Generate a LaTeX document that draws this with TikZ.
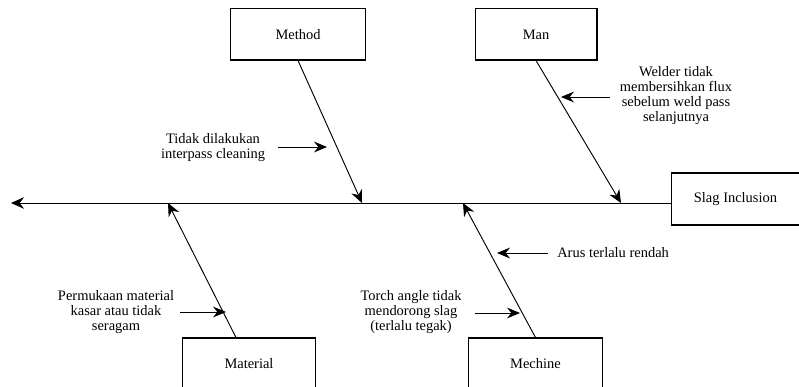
\documentclass[tikz,border=0pt]{standalone}
\usepackage{fontspec}
\setmainfont{Liberation Serif}
\usepackage{tikz}
\usetikzlibrary{calc, positioning, arrows.meta}

\tikzset{
    catbox/.style={draw, line width=0.7pt, minimum height=1.24cm, inner sep=0pt,
        font=\fontsize{10}{10.4}\selectfont},
    bone/.style={line width=0.65pt, -{Stealth[length=9pt, width=8pt, inset=3pt]}},
    cause/.style={line width=0.65pt, -{Stealth[length=9pt, width=7.5pt, inset=3pt]}},
    causetext/.style={align=center, inner sep=0pt, font=\fontsize{10}{10.4}\selectfont},
}

\begin{document}
\begin{tikzpicture}[x=0.0243cm, y=-0.0243cm]
            \useasboundingbox (0,0) rectangle (799,387);

            % === Category boxes ===
            \node[catbox, minimum width=3.305cm] (method) at (298,34.5) {Method};
            \node[catbox, minimum width=2.965cm] (man) at (536,34.5) {Man};
            \node[catbox, minimum width=3.256cm] (material) at (249,363.5) {Material};
            \node[catbox, minimum width=3.28cm] (mechine) at (535.5,363.5) {Mechine};

            % === Effect (head) ===
            \node[catbox, minimum width=3.135cm, minimum height=1.264cm] (slag) at (735.5,199) {Slag Inclusion};

            % === Spine ===
            \coordinate (head) at (671,203);
            \coordinate (tail) at (11,203);
            \draw[bone] (head) -- (tail);

            % === Bones ===
            \coordinate (jmethod) at (362,203);
            \coordinate (jman) at (621,203);
            \coordinate (jmaterial) at (168,203);
            \coordinate (jmechine) at (463,203);
            \draw[bone] (method.south) -- (jmethod);
            \draw[bone] (man.south) -- (jman);
            \draw[bone] ($(material.north)+(-13,0)$) -- (jmaterial);
            \draw[bone] (mechine.north) -- (jmechine);

            % === Causes ===
            \node[causetext] (cmethod) at (213,148) {Tidak dilakukan\\interpass cleaning};
            \coordinate (cmethodA) at (278,147);
            \coordinate (cmethodB) at (327,147);
            \draw[cause] (cmethodA) -- (cmethodB);

            \node[causetext] (cman) at (676,95.5) {Welder tidak\\membersihkan flux\\sebelum weld pass\\selanjutnya};
            \coordinate (cmanA) at (610,97);
            \coordinate (cmanB) at (561,97);
            \draw[cause] (cmanA) -- (cmanB);

            \node[causetext] (cmaterial) at (116,312.5) {Permukaan material\\kasar atau tidak\\seragam};
            \coordinate (cmaterialA) at (180,312);
            \coordinate (cmaterialB) at (226,312);
            \draw[cause] (cmaterialA) -- (cmaterialB);

            \node[causetext, anchor=west] (carus) at (557,253) {Arus terlalu rendah};
            \coordinate (carusA) at (548,253);
            \coordinate (carusB) at (497,253);
            \draw[cause] (carusA) -- (carusB);

            \node[causetext] (ctorch) at (411,312.5) {Torch angle tidak\\mendorong slag\\(terlalu tegak)};
            \coordinate (ctorchA) at (475,313);
            \coordinate (ctorchB) at (520,313);
            \draw[cause] (ctorchA) -- (ctorchB);
        \end{tikzpicture}
\end{document}
